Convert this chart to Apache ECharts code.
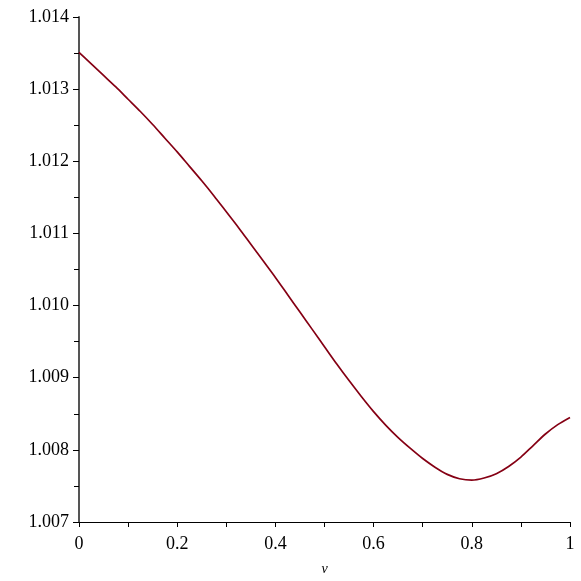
<!DOCTYPE html>
<html>
<head>
<meta charset="utf-8">
<script src="https://cdn.jsdelivr.net/npm/echarts@6/dist/echarts.min.js"></script>
<style>
  html, body { margin: 0; padding: 0; background: #fff; }
  #main { width: 581px; height: 581px; }
</style>
</head>
<body>
<div id="main"></div>
<script>
// values (v step 0.025)
var vValues = [0, 0.025, 0.05, 0.075, 0.1, 0.125, 0.15, 0.175, 0.2, 0.225,
               0.25, 0.275, 0.3, 0.325, 0.35, 0.375, 0.4, 0.425, 0.45, 0.475,
               0.5, 0.525, 0.55, 0.575, 0.6, 0.625, 0.65, 0.675, 0.7, 0.725,
               0.75, 0.775, 0.8, 0.825, 0.85, 0.875, 0.9, 0.925, 0.95, 0.975, 1]
var yValues = [1.01351, 1.01335, 1.01319, 1.01303, 1.01286, 1.01269, 1.01251, 1.01232, 1.01213, 1.01193,
               1.01173, 1.01152, 1.01130, 1.01108, 1.01085, 1.01062, 1.01039, 1.01015, 1.00991, 1.00967,
               1.00943, 1.00919, 1.00896, 1.00874, 1.00853, 1.00834, 1.00817, 1.00802, 1.00788, 1.00776,
               1.00766, 1.00760, 1.00758, 1.00761, 1.00767, 1.00777, 1.00790, 1.00806, 1.00822, 1.00835, 1.00845]
var xTicks = [0, 0.2, 0.4, 0.6, 0.8, 1]
var yTicks = [1.007, 1.008, 1.009, 1.010, 1.011, 1.012, 1.013, 1.014]

var points = vValues.map(function (v, i) { return [v, yValues[i]] })

var myChart = echarts.init(document.getElementById('main'))
var font = '"Liberation Serif", "DejaVu Serif", serif'

var option = {
    backgroundColor: '#fff',
    animation: false,
    grid: { left: 79, right: 11, top: 17, bottom: 52 },
    xAxis: {
        type: 'value',
        min: xTicks[0],
        max: xTicks[xTicks.length - 1],
        interval: 0.2,
        name: 'v',
        nameLocation: 'middle',
        nameGap: 40,
        nameTextStyle: { fontFamily: font, fontStyle: 'italic', fontSize: 14, color: '#000' },
        axisLine: { lineStyle: { color: '#000', width: 1 } },
        axisTick: { show: true, length: 5, lineStyle: { color: '#000' } },
        minorTick: { show: true, splitNumber: 2, length: 5, lineStyle: { color: '#000' } },
        splitLine: { show: false },
        axisLabel: { fontFamily: font, fontSize: 18, color: '#000', margin: 13 }
    },
    yAxis: {
        type: 'value',
        min: yTicks[0],
        max: yTicks[yTicks.length - 1],
        interval: 0.001,
        axisLine: { show: true, lineStyle: { color: '#555', width: 2 } },
        axisTick: { show: true, length: 6, lineStyle: { color: '#000' } },
        minorTick: { show: true, splitNumber: 2, length: 5, lineStyle: { color: '#000' } },
        splitLine: { show: false },
        axisLabel: {
            fontFamily: font, fontSize: 18, color: '#000', margin: 10,
            formatter: function (v) { return v.toFixed(3) }
        }
    },
    series: [{
        type: 'line',
        data: points,
        smooth: 0.3,
        showSymbol: false,
        lineStyle: { color: '#850014', width: 1.7 }
    }]
}
myChart.setOption(option)
</script>
</body>
</html>
